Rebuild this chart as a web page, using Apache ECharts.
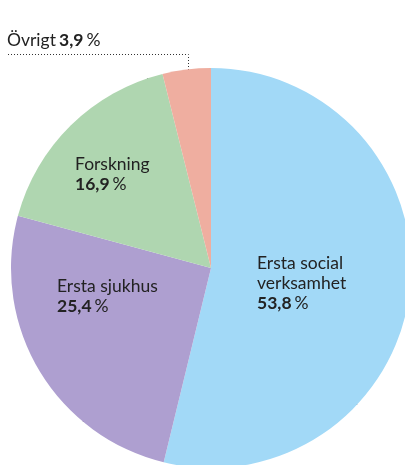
<!DOCTYPE html>
<html>
<head>
<meta charset="utf-8">
<script src="https://cdn.jsdelivr.net/npm/echarts@6/dist/echarts.min.js"></script>
<style>
  html, body { margin: 0; padding: 0; background: #fff; }
  #chart { width: 405px; height: 465px; }
</style>
</head>
<body>
<div id="chart"></div>
<script>
// andelar per verksamhet
const names = ['Ersta social\nverksamhet', 'Ersta sjukhus', 'Forskning', 'Övrigt'];
const values = [53.8, 25.4, 16.9, 3.9];
const valueTexts = ['53,8', '25,4', '16,9', '3,9'];
const colors = ['#a2d9f7', '#ae9fd0', '#afd6b0', '#efaea0'];

const myChart = echarts.init(document.getElementById('chart'));

const pieData = names.map((n, i) => ({
  name: n,
  value: values[i],
  itemStyle: { color: colors[i] },
  label: i === 3 ? { position: 'outside' } : { position: 'inside' }
}));

const option = {
  animation: false,
  textStyle: { fontFamily: 'Lato' },
  series: [
    {
      type: 'pie',
      center: [211, 268],
      radius: 200,
      startAngle: 90,
      clockwise: true,
      silent: true,
      itemStyle: { borderWidth: 0 },
      label: {
        show: true,
        color: '#222',
        align: 'left',
        formatter: (p) => {
          const i = p.dataIndex;
          const lines = names[i].split('\n').map((s) => '{n|' + s + '}');
          if (i === 3) return '{n|' + names[i] + '} {b|' + valueTexts[i] + '} {n|%}';
          return lines.join('\n') + '\n{b|' + valueTexts[i] + '} {n|%}';
        },
        rich: {
          n: { fontSize: 17.5, color: '#222', lineHeight: 20, fontFamily: 'Lato' },
          b: { fontSize: 17.5, color: '#222', lineHeight: 20, fontWeight: 'bold', fontFamily: 'Lato' }
        }
      },
      labelLine: {
        show: true,
        lineStyle: { color: '#333', width: 1, type: [1, 2] }
      },
      labelLayout: (params) => {
        const i = params.dataIndex;
        if (i === 0) return { x: 257, y: 253, align: 'left', verticalAlign: 'top' };
        if (i === 1) return { x: 57, y: 276, align: 'left', verticalAlign: 'top' };
        if (i === 2) return { x: 75, y: 154, align: 'left', verticalAlign: 'top' };
        return {
          x: 7, y: 30, align: 'left', verticalAlign: 'top',
          labelLinePoints: [[8, 54.5], [188.5, 54.5], [188.5, 77]]
        };
      },
      data: pieData
    }
  ]
};

option && myChart.setOption(option);
</script>
</body>
</html>
